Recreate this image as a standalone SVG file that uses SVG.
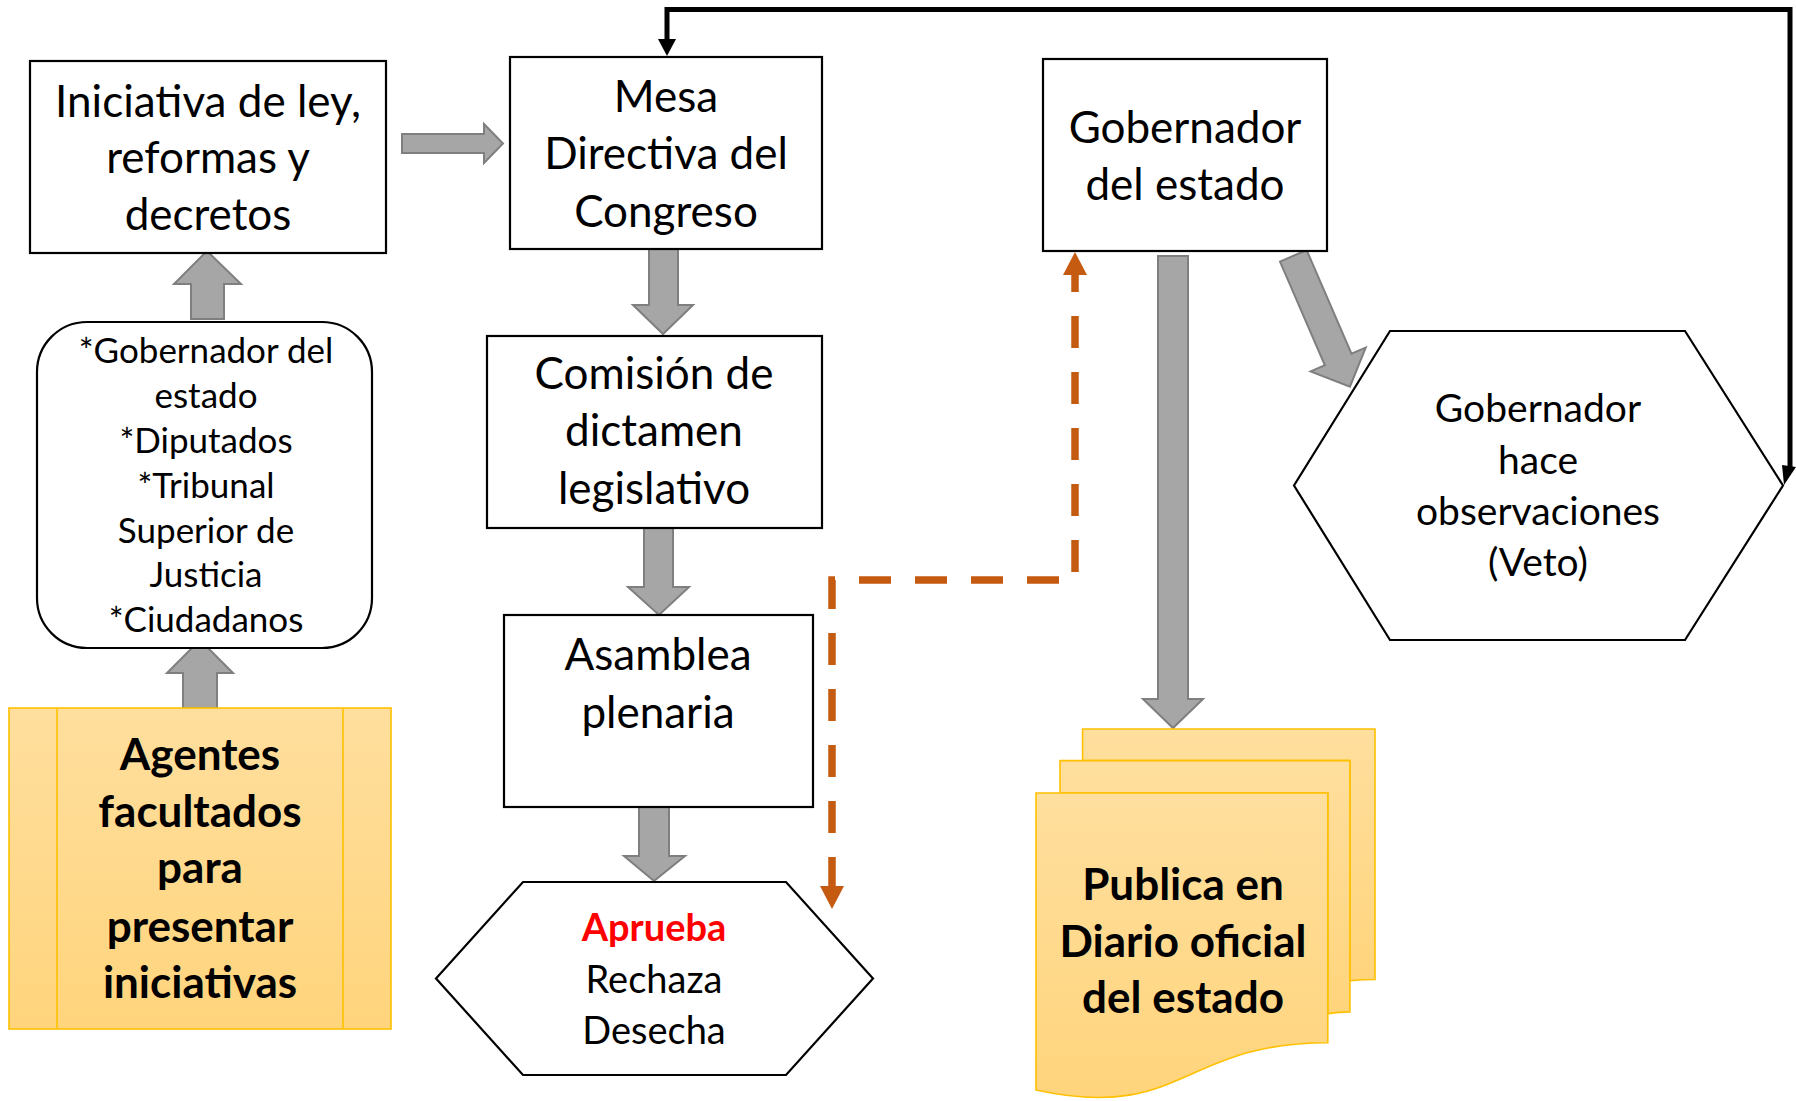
<svg xmlns="http://www.w3.org/2000/svg" width="1796" height="1101" viewBox="0 0 1796 1101">
<defs>
<linearGradient id="gold" x1="0" y1="0" x2="0" y2="1">
<stop offset="0" stop-color="#FFDF9E"/>
<stop offset="1" stop-color="#FFD47C"/>
</linearGradient>
<style>
.box{fill:#fff;stroke:#000;stroke-width:2.2}
.gold{fill:url(#gold);stroke:#FFC000;stroke-width:1.6}
.garrow{fill:#A6A6A6;stroke:#7F7F7F;stroke-width:2;stroke-linejoin:miter}
.t{font-family:Lato,"Open Sans","Liberation Sans",sans-serif;text-anchor:middle;fill:#000}
.big{font-size:44px}
.mid{font-size:35px}
.hx{font-size:39px}
.hx2{font-size:38px}
.bold{font-weight:700;font-size:44px}
.dash{fill:none;stroke:#C55A11;stroke-width:7.5;stroke-dasharray:32 24}
.orange{fill:#C55A11}
.loop{fill:none;stroke:#000;stroke-width:5}
</style>
</defs>
<rect width="1796" height="1101" fill="#fff"/>

<g id="connectors">
<polygon class="garrow" points="402,134 484,134 484,124 503,143.5 484,163 484,153 402,153"/>
<polygon class="garrow" points="207,251 241,284 224,284 224,319 191,319 191,284 174,284"/>
<polygon class="garrow" points="200,640 233,673 217,673 217,708 183,708 183,673 167,673"/>
<polygon class="garrow" points="649,246 678,246 678,305 693,305 663,334 633,305 649,305"/>
<polygon class="garrow" points="644,527 673,527 673,587 689,587 659,615 628,587 644,587"/>
<polygon class="garrow" points="639,796 669,796 669,856 685,856 654,881 624,856 639,856"/>
<polygon class="garrow" points="1158,256 1188,256 1188,699 1203,699 1173,728 1143,699 1158,699"/>
<polygon class="garrow" transform="translate(1293.3,255.8) rotate(-23.4)" points="-14.5,0 14.5,0 14.5,113 30,113 0,142.6 -30,113 -14.5,113"/>
<path class="dash" d="M1075,260 L1075,580 L832,580 L832,886"/>
<polygon class="orange" points="1075,252 1087,275 1063,275"/>
<polygon class="orange" points="832,909 844,886 820,886"/>
<path class="loop" d="M667,41 L667,9.5 L1790,9.5 L1790,468"/>
<polygon points="667,56 658,39 676,39" fill="#000"/>
<polygon points="1784,485 1782,465 1796,467" fill="#000"/>
</g>

<g id="iniciativa">
<rect class="box" x="30" y="61" width="356" height="192"/>
<text class="t big" x="208" y="117">Iniciativa de ley,</text>
<text class="t big" x="208" y="173">reformas y</text>
<text class="t big" x="208" y="230">decretos</text>
</g>

<g id="agentes-lista">
<rect class="box" x="37" y="322" width="335" height="326" rx="50" ry="50"/>
<text class="t mid" x="206" y="363">*Gobernador del</text>
<text class="t mid" x="206" y="408">estado</text>
<text class="t mid" x="206" y="453">*Diputados</text>
<text class="t mid" x="206" y="498">*Tribunal</text>
<text class="t mid" x="206" y="543">Superior de</text>
<text class="t mid" x="206" y="587">Justicia</text>
<text class="t mid" x="206" y="632">*Ciudadanos</text>
</g>

<g id="agentes">
<rect class="gold" x="9" y="708" width="382" height="321"/>
<line x1="57" y1="708" x2="57" y2="1029" stroke="#FFC000" stroke-width="1.6"/>
<line x1="343" y1="708" x2="343" y2="1029" stroke="#FFC000" stroke-width="1.6"/>
<text class="t bold" x="200" y="770">Agentes</text>
<text class="t bold" x="200" y="827">facultados</text>
<text class="t bold" x="200" y="883">para</text>
<text class="t bold" x="200" y="942">presentar</text>
<text class="t bold" x="200" y="998">iniciativas</text>
</g>

<g id="mesa">
<rect class="box" x="510" y="57" width="312" height="192"/>
<text class="t big" x="666" y="112">Mesa</text>
<text class="t big" x="666" y="169">Directiva del</text>
<text class="t big" x="666" y="227">Congreso</text>
</g>

<g id="comision">
<rect class="box" x="487" y="336" width="335" height="192"/>
<text class="t big" x="654" y="389">Comisión de</text>
<text class="t big" x="654" y="446">dictamen</text>
<text class="t big" x="654" y="504">legislativo</text>
</g>

<g id="asamblea">
<rect class="box" x="504" y="615" width="309" height="192"/>
<text class="t big" x="658" y="670">Asamblea</text>
<text class="t big" x="658" y="728">plenaria</text>
</g>

<g id="resultado">
<polygon class="box" points="523,882 786,882 873,978.5 786,1075 523,1075 436,978.5"/>
<text class="t hx2" x="654" y="941" font-weight="700" style="fill:#FF0000">Aprueba</text>
<text class="t hx2" x="654" y="993">Rechaza</text>
<text class="t hx2" x="654" y="1044">Desecha</text>
</g>

<g id="gobernador">
<rect class="box" x="1043" y="59" width="284" height="192"/>
<text class="t big" x="1185" y="143">Gobernador</text>
<text class="t big" x="1185" y="200">del estado</text>
</g>

<g id="veto">
<polygon class="box" points="1390,331 1685,331 1783,485.5 1685,640 1390,640 1294,485.5"/>
<text class="t hx" x="1538" y="422">Gobernador</text>
<text class="t hx" x="1538" y="474">hace</text>
<text class="t hx" x="1538" y="525">observaciones</text>
<text class="t hx" x="1538" y="576">(Veto)</text>
</g>

<g id="publica">
<path class="gold" d="M1082.6,760.6 L1082.6,729 L1375,729 L1375,979.5 C1362.4,979.5 1349.9,980.8 1349.9,980.8 L1349.9,760.6 Z"/>
<path class="gold" d="M1060,793 L1060,760.6 L1349.9,760.6 L1349.9,1011.9 C1338.9,1011.9 1327.8,1013.6 1327.8,1013.6 L1327.8,793 Z"/>
<path class="gold" d="M1036,793 L1327.8,793 L1327.8,1042.7 C1181.9,1042.7 1181.9,1122 1036,1090 Z"/>
<text class="t bold" x="1183" y="900">Publica en</text>
<text class="t bold" x="1183" y="957">Diario oficial</text>
<text class="t bold" x="1183" y="1013">del estado</text>
</g>
</svg>
